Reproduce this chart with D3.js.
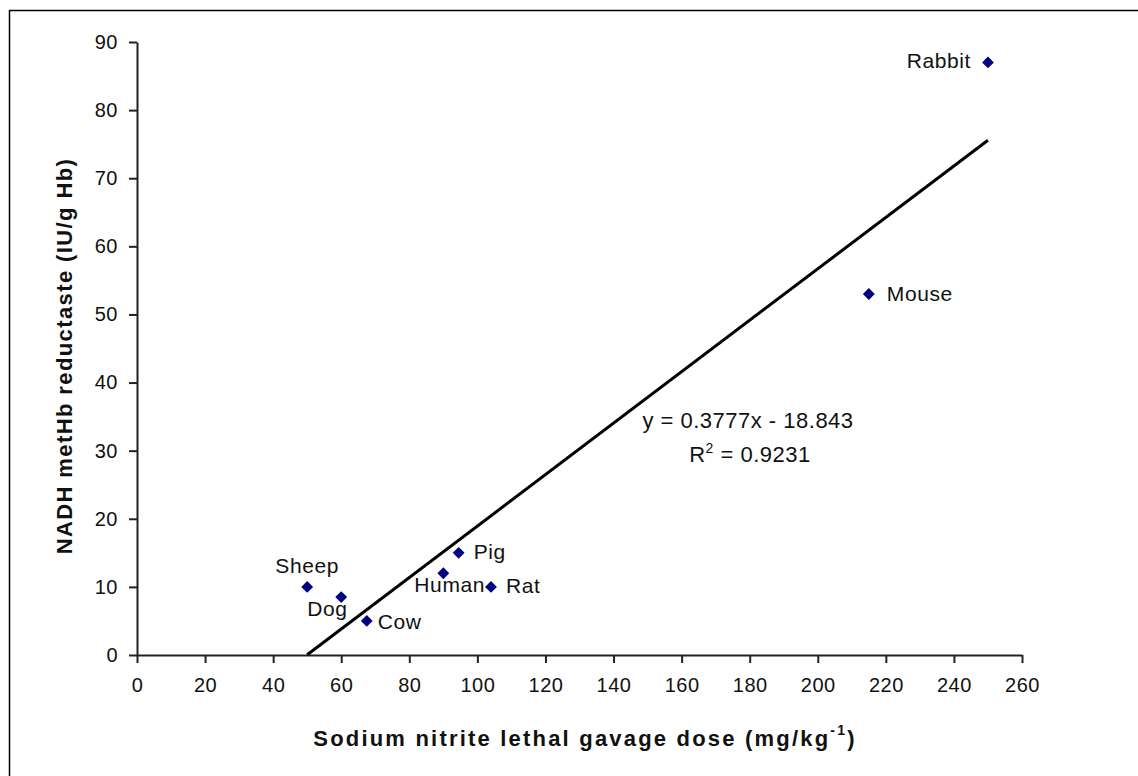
<!DOCTYPE html>
<html>
<head>
<meta charset="utf-8">
<script src="https://cdn.jsdelivr.net/npm/d3@7"></script>
<style>
  body { margin: 0; background: #fff; }
  svg { display: block; font-family: "Liberation Sans", Arial, sans-serif; }
</style>
</head>
<body>
<div id="chart"></div>
<script>
// species and readings
var species = ["Sheep", "Dog", "Cow", "Human", "Pig", "Rat", "Mouse", "Rabbit"];
var doseValues = [50, 60, 67.5, 90, 94.5, 104, 215, 250];
var reductaseValues = [10, 8.5, 5, 12, 15, 10, 53, 87];
var xTicks = [0, 20, 40, 60, 80, 100, 120, 140, 160, 180, 200, 220, 240, 260];
var yTicks = [0, 10, 20, 30, 40, 50, 60, 70, 80, 90];
var slope = 0.3777, intercept = -18.843;

var W = 1138, H = 776;
var svg = d3.select("#chart").append("svg").attr("width", W).attr("height", H);

// outer frame (right/bottom edges are off the picture)
svg.append("rect").attr("x", 9.5).attr("y", 10.5).attr("width", 1200).attr("height", 900)
   .attr("fill", "none").attr("stroke", "#000").attr("stroke-width", 1.5);

var x = d3.scaleLinear().domain([0, 260]).range([137, 1022]);
var y = d3.scaleLinear().domain([0, 90]).range([655, 42]);

var xAxis = svg.append("g").attr("transform", "translate(0," + y(0) + ")")
   .call(d3.axisBottom(x).tickValues(xTicks).tickSize(8).tickSizeOuter(0).tickPadding(15));
var yAxis = svg.append("g").attr("transform", "translate(" + x(0) + ",0)")
   .call(d3.axisLeft(y).tickValues(yTicks).tickSize(8).tickSizeOuter(0).tickPadding(11));

[xAxis, yAxis].forEach(function(g) {
  g.select(".domain").attr("stroke", "#222").attr("stroke-width", 2);
  g.selectAll(".tick line").attr("stroke", "#222").attr("stroke-width", 2);
  g.selectAll(".tick text").attr("font-size", 20).attr("letter-spacing", 0.5).attr("fill", "#111")
   .attr("font-family", "'Liberation Sans', Arial, sans-serif");
});

// trend line across the data range
var x0 = d3.min(doseValues), x1 = d3.max(doseValues);
svg.append("line")
   .attr("x1", x(x0)).attr("y1", y(slope * x0 + intercept))
   .attr("x2", x(x1)).attr("y2", y(slope * x1 + intercept))
   .attr("stroke", "#000").attr("stroke-width", 3);

// points
var pts = species.map(function(s, i) { return {name: s, x: doseValues[i], y: reductaseValues[i]}; });
svg.selectAll("path.pt").data(pts).enter().append("path")
   .attr("class", "pt")
   .attr("d", d3.symbol().type(d3.symbolSquare).size(70))
   .attr("transform", function(d) { return "translate(" + x(d.x) + "," + y(d.y) + ") rotate(45)"; })
   .attr("fill", "#000080");

// label offsets relative to each point
var labelPos = {
  Sheep:  {dx: 0,   dy: -14, anchor: "middle"},
  Dog:    {dx: -34, dy: 19,  anchor: "start"},
  Cow:    {dx: 11,  dy: 8,   anchor: "start"},
  Human:  {dx: -29, dy: 19,  anchor: "start"},
  Pig:    {dx: 15,  dy: 6,   anchor: "start"},
  Rat:    {dx: 15,  dy: 6,   anchor: "start"},
  Mouse:  {dx: 18,  dy: 7,   anchor: "start"},
  Rabbit: {dx: -17, dy: 6,   anchor: "end"}
};
svg.selectAll("text.lbl").data(pts).enter().append("text")
   .attr("class", "lbl")
   .attr("x", function(d) { return x(d.x) + labelPos[d.name].dx; })
   .attr("y", function(d) { return y(d.y) + labelPos[d.name].dy; })
   .attr("text-anchor", function(d) { return labelPos[d.name].anchor; })
   .attr("font-size", 21).attr("letter-spacing", 0.6).attr("fill", "#111")
   .text(function(d) { return d.name; });

// equation
svg.append("text").attr("x", 748).attr("y", 428).attr("text-anchor", "middle")
   .attr("font-size", 22).attr("letter-spacing", 0.5).attr("fill", "#111").text("y = 0.3777x - 18.843");
var r2 = svg.append("text").attr("x", 750).attr("y", 462).attr("text-anchor", "middle")
   .attr("font-size", 22).attr("letter-spacing", 0.5).attr("fill", "#111");
r2.append("tspan").text("R");
r2.append("tspan").attr("font-size", 14).attr("dy", -9).text("2");
r2.append("tspan").attr("dy", 9).text(" = 0.9231");

// axis titles
var xt = svg.append("text").attr("x", 585).attr("y", 746).attr("text-anchor", "middle")
   .attr("font-size", 22).attr("font-weight", "bold").attr("letter-spacing", 2.2).attr("fill", "#111");
xt.append("tspan").text("Sodium nitrite lethal gavage dose (mg/kg");
xt.append("tspan").attr("font-size", 14).attr("dy", -11).text("-1");
xt.append("tspan").attr("dy", 11).text(")");

svg.append("text")
   .attr("transform", "translate(72,356) rotate(-90)")
   .attr("text-anchor", "middle")
   .attr("font-size", 22).attr("font-weight", "bold").attr("letter-spacing", 1.4).attr("fill", "#111")
   .text("NADH metHb reductaste (IU/g Hb)");
</script>
</body>
</html>
